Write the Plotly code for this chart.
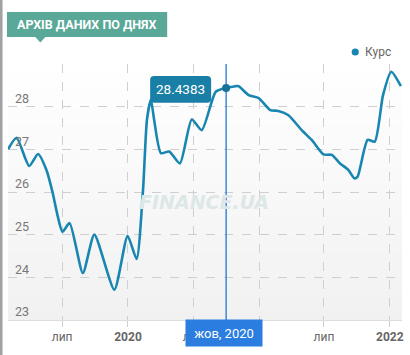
import plotly.graph_objects as go

# ---- data ----
dates = [
    "2019-01-31", "2019-02-24", "2019-03-31", "2019-04-25", "2019-05-18",
    "2019-06-05", "2019-06-17", "2019-07-02", "2019-07-22", "2019-08-28",
    "2019-09-29", "2019-11-24", "2019-12-31", "2020-01-25", "2020-02-12",
    "2020-02-23", "2020-03-05", "2020-03-14", "2020-04-02", "2020-04-25",
    "2020-05-25", "2020-06-27", "2020-07-25", "2020-09-02", "2020-10-01",
    "2020-10-27", "2020-11-05", "2020-12-03", "2020-12-31", "2021-02-01",
    "2021-02-24", "2021-03-24", "2021-04-30", "2021-05-28", "2021-06-30",
    "2021-07-23", "2021-08-15", "2021-09-07", "2021-09-24", "2021-10-03",
    "2021-10-31", "2021-11-20", "2021-12-13", "2022-01-05", "2022-02-01",
]
rates = [
    27.00, 27.27, 26.61, 26.89, 26.52,
    25.97, 25.50, 25.07, 25.27, 24.10,
    25.00, 23.71, 24.97, 24.43, 26.05,
    27.70, 28.16, 27.69, 26.91, 26.95,
    26.67, 27.70, 27.45, 28.35, 28.4383,
    28.48, 28.48, 28.27, 28.20, 27.92,
    27.90, 27.80, 27.45, 27.22, 26.88,
    26.87, 26.67, 26.52, 26.32, 26.36,
    27.22, 27.18, 28.27, 28.82, 28.48,
]
x_range = ["2019-01-31", "2022-02-04"]
y_ticks = [23, 24, 25, 26, 27, 28, 29]
y_tick_labels = ["23", "24", "25", "26", "27", "28", ""]
x_ticks = ["2019-07-01", "2020-01-01", "2020-07-01", "2021-01-01", "2021-07-01", "2022-01-01"]
# the "2021" label is hidden behind the crosshair date box in the reference
x_tick_labels = ["лип", "<b>2020</b>", "лип", "", "лип", "<b>2022</b>"]
sel_date = "2020-10-01"
sel_value = 28.4383
sel_label = "жов, 2020"
title_text = "АРХІВ ДАНИХ ПО ДНЯХ"
legend_text = "Курс"
watermark = "FINANCE.UA"

# ---- layout helpers ----
W, H = 410, 355
ML, MR, MT, MB = 8, 6, 64, 35


def px(x):
    return (x - ML) / (W - ML - MR)


def py(y):
    return (H - MB - y) / (H - MT - MB)


LINE = "#1886b0"
TEAL = "#5aa898"
GRID = "#cfcfcf"
FONT = "Roboto"

fig = go.Figure()

# crosshair
fig.add_trace(go.Scatter(
    x=[sel_date, sel_date], y=[y_ticks[0], y_ticks[-1]], mode="lines",
    line=dict(color="#2277d6", width=1.3), hoverinfo="skip", showlegend=False,
))

# main series
fig.add_trace(go.Scatter(
    x=dates, y=rates, mode="lines", name=legend_text,
    line=dict(color=LINE, width=2.6, shape="spline", smoothing=0.6),
    showlegend=False,
))

# selected point
fig.add_trace(go.Scatter(
    x=[sel_date], y=[sel_value], mode="markers",
    marker=dict(color="#17729a", size=8), showlegend=False,
))

shapes = []
# soft vertical background gradient (translucent bands, below the transparent plot bg)
n_bands = 30
for i in range(n_bands):
    shapes.append(dict(type="rect", xref="paper", yref="paper", x0=0, x1=1,
                       y0=i / n_bands, y1=(i + 1) / n_bands,
                       fillcolor=f"rgba(0,0,0,{0.055 * (1 - (i + 0.5) / n_bands):.4f})",
                       line=dict(width=0), layer="below"))
# left page border
shapes.append(dict(type="rect", xref="paper", yref="paper", x0=px(0), x1=px(2.5),
                   y0=py(H), y1=py(0), fillcolor="#a0a0a0", line=dict(width=0), layer="above"))
# title banner
shapes.append(dict(type="rect", xref="paper", yref="paper", x0=px(7), x1=px(168),
                   y0=py(37), y1=py(12), fillcolor=TEAL, line=dict(width=0)))
shapes.append(dict(type="path", xref="paper", yref="paper",
                   path=f"M {px(35)},{py(36.5)} L {px(46)},{py(36.5)} L {px(40.5)},{py(42.5)} Z",
                   fillcolor=TEAL, line=dict(width=0)))
# legend dot
shapes.append(dict(type="circle", xref="paper", yref="paper", xsizemode="pixel", ysizemode="pixel",
                   xanchor=px(357), yanchor=py(52), x0=-3.6, x1=3.6, y0=-3.6, y1=3.6,
                   fillcolor=LINE, line=dict(width=0)))
# tooltip box (rounded)
r = 4
xl, xr, yt, yb = -76, -15, 12, -14.7
path = (f"M {xl + r},{yt} L {xr - r},{yt} Q {xr},{yt} {xr},{yt - r} "
        f"L {xr},{yb + r} Q {xr},{yb} {xr - r},{yb} L {xl + r},{yb} "
        f"Q {xl},{yb} {xl},{yb + r} L {xl},{yt - r} Q {xl},{yt} {xl + r},{yt} Z")
shapes.append(dict(type="path", xref="x", yref="y", xsizemode="pixel", ysizemode="pixel",
                   xanchor=sel_date, yanchor=sel_value, path=path,
                   fillcolor="#1a7fa6", line=dict(width=0), layer="above"))

annotations = [
    dict(text=watermark, x=px(205), y=py(202), xref="paper", yref="paper", showarrow=False,
         xanchor="center", yanchor="middle",
         font=dict(family="DejaVu Sans", size=19, color="#dde7e7", style="italic", weight="bold")),
    dict(text=title_text, x=px(87.5), y=py(24.8), xref="paper", yref="paper", showarrow=False,
         xanchor="center", yanchor="middle",
         font=dict(family=FONT, size=12.5, color="white", weight="bold")),
    dict(text=legend_text, x=px(365), y=py(52), xref="paper", yref="paper", showarrow=False,
         xanchor="left", yanchor="middle", font=dict(family=FONT, size=12, color="#666666")),
    dict(text=str(sel_value), x=sel_date, y=sel_value, xref="x", yref="y", showarrow=False,
         xanchor="center", yanchor="middle",
         xshift=-45.5, yshift=-1.3, font=dict(family=FONT, size=13.5, color="white")),
    dict(text=sel_label, x=sel_date, y=0, xref="x", yref="paper", showarrow=False,
         xanchor="center", yanchor="top", xshift=-1.8, yshift=0.7, width=68, height=18.4,
         borderpad=4, bgcolor="#2b7de0", font=dict(family=FONT, size=13, color="white")),
]

fig.update_layout(
    width=W, height=H, margin=dict(l=ML, r=MR, t=MT, b=MB),
    paper_bgcolor="white", plot_bgcolor="rgba(0,0,0,0)", showlegend=False,
    font=dict(family=FONT, color="#666666"),
    shapes=shapes, annotations=annotations,
    xaxis=dict(range=x_range, tickvals=x_ticks, ticktext=x_tick_labels,
               showgrid=True, gridcolor=GRID, griddash="dash", gridwidth=1,
               ticks="outside", ticklen=6, tickcolor=GRID,
               showline=True, linecolor="#dddddd", linewidth=1,
               tickfont=dict(family=FONT, size=12, color="#666666"), zeroline=False,
               fixedrange=True),
    yaxis=dict(range=[y_ticks[0], y_ticks[-1]], tickvals=y_ticks, ticktext=y_tick_labels,
               showgrid=True, gridcolor=GRID, griddash="dash", gridwidth=1,
               ticklabelposition="inside", ticklabelshift=-8, ticklabelstandoff=4,
               ticklabeloverflow="allow",
               tickfont=dict(family=FONT, size=12.5, color="#777777"), zeroline=False,
               showline=False, fixedrange=True),
)

fig.write_html(
    "out.html",
    config={"displayModeBar": False},
    post_script="document.body.style.margin='0';document.body.style.overflow='hidden';",
)
